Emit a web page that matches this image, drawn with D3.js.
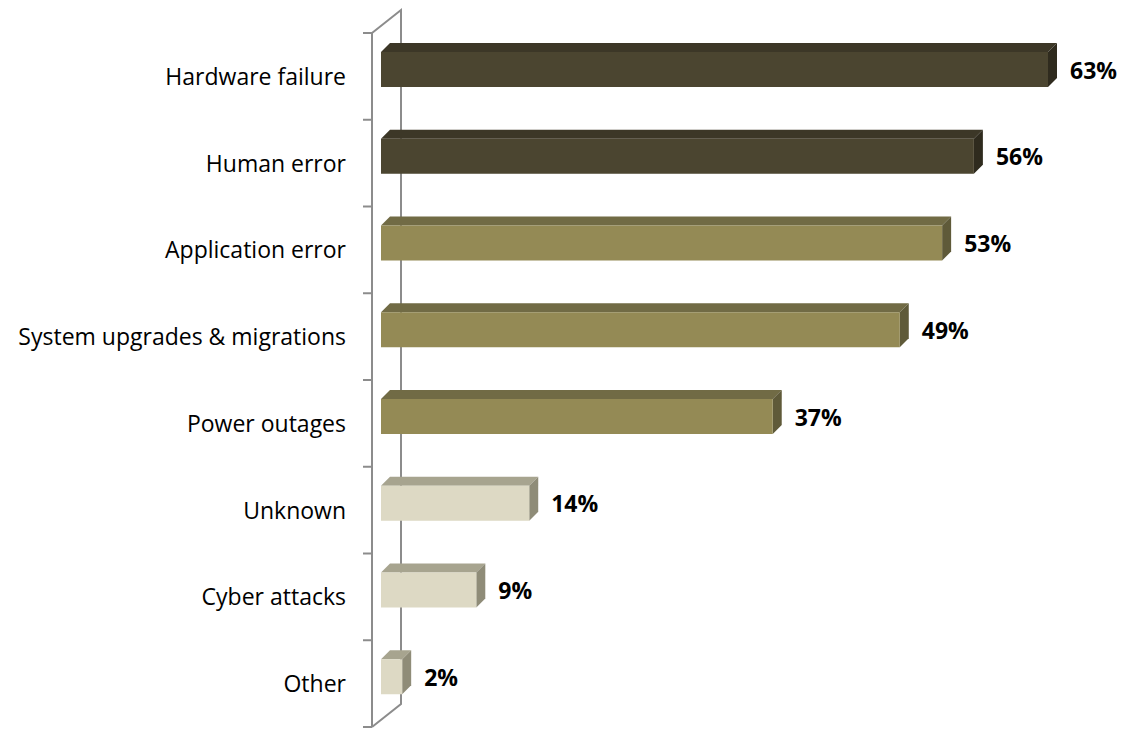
<!DOCTYPE html>
<html><head><meta charset="utf-8">
<script src="https://cdn.jsdelivr.net/npm/d3@7"></script>
<style>body{margin:0;background:#fff}svg{display:block}</style>
</head><body>
<script>
const categories = ["Hardware failure","Human error","Application error","System upgrades & migrations","Power outages","Unknown","Cyber attacks","Other"];
const values = [63,56,53,49,37,14,9,2];
const tiers = [0,0,1,1,1,2,2,2];
const valueLabels = ["63%","56%","53%","49%","37%","14%","9%","2%"];
const palette = [
  {front:"#4b4530", top:"#3c3727", side:"#2f2b1e"},
  {front:"#948a55", top:"#716b45", side:"#5f5a39"},
  {front:"#ddd9c4", top:"#a7a48f", side:"#8f8c78"}
];

const W=1140,H=729;
const svg=d3.select("body").append("svg").attr("width",W).attr("height",H);
const x=d3.scaleLinear().domain([0,63]).range([381,1048]);
const y=d3.scaleBand().domain(categories).range([33,727]);
const dx=9, dy=9, front0=19, fh=35;
const axisX=372, backX=401, wallDy=23;
const gray="#8c8c8c";
const font="'Open Sans', sans-serif";

// wall / axis
svg.append("path").attr("fill","none").attr("stroke",gray).attr("stroke-width",2)
  .attr("d",`M${axisX},${y.range()[0]} L${backX},${y.range()[0]-wallDy} L${backX},${y.range()[1]-wallDy} L${axisX},${y.range()[1]}`);
svg.append("line").attr("stroke",gray).attr("stroke-width",2)
  .attr("x1",axisX).attr("x2",axisX).attr("y1",y.range()[0]).attr("y2",y.range()[1]);
const tickYs=categories.map(c=>y(c)).concat([y.range()[1]]);
svg.selectAll("line.tick").data(tickYs).join("line").attr("class","tick")
  .attr("stroke",gray).attr("stroke-width",2)
  .attr("x1",axisX-9).attr("x2",axisX).attr("y1",d=>d).attr("y2",d=>d);

// bars
const g=svg.selectAll("g.bar").data(categories).join("g").attr("class","bar");
g.each(function(c,i){
  const s=d3.select(this);
  const x0=x(0), x1=x(values[i]);
  const t=y(c)+front0, b=t+fh;
  const p=palette[tiers[i]];
  s.append("path").attr("fill",p.top)
    .attr("d",`M${x0},${t} L${x0+dx},${t-dy} L${x1+dx},${t-dy} L${x1},${t} Z`);
  s.append("path").attr("fill",p.side)
    .attr("d",`M${x1},${t} L${x1+dx},${t-dy} L${x1+dx},${b-dy} L${x1},${b} Z`);
  s.append("rect").attr("fill",p.front).attr("x",x0).attr("y",t).attr("width",x1-x0).attr("height",fh);
  s.append("text").attr("x",x1+dx+13).attr("y",t+26.5)
    .attr("font-family",font).attr("font-weight","bold").attr("font-size",23)
    .attr("fill","#000").text(valueLabels[i]);
});

// category labels
svg.selectAll("text.cat").data(categories).join("text").attr("class","cat")
  .attr("x",346).attr("y",c=>y(c)+y.bandwidth()/2+8.6).attr("text-anchor","end")
  .attr("font-family",font).attr("font-size",23).attr("fill","#000").text(c=>c);
</script>
</body></html>
